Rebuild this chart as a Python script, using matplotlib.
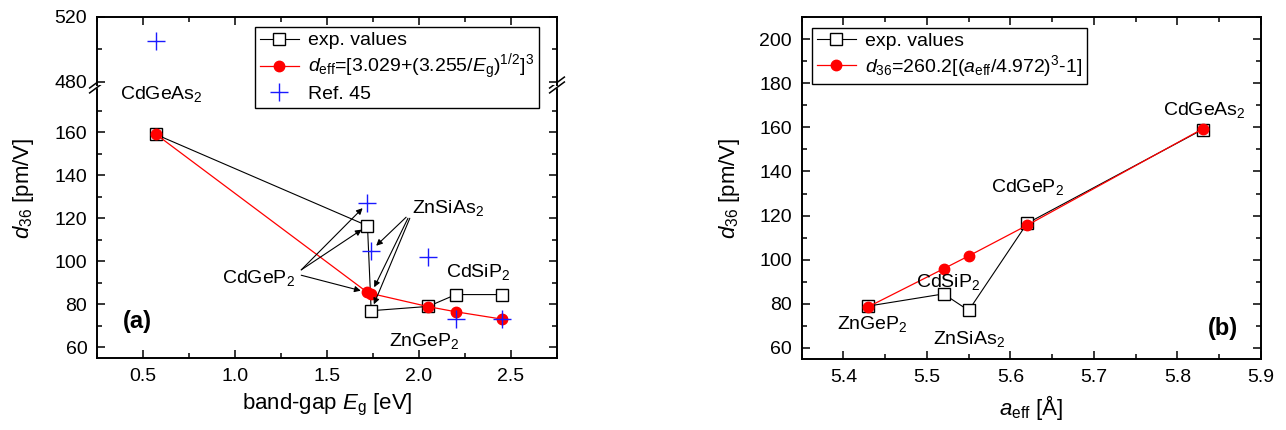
import matplotlib
matplotlib.use("Agg")
import matplotlib.pyplot as plt
from matplotlib.lines import Line2D
from matplotlib.ticker import MultipleLocator, FixedLocator

plt.rcParams["font.family"] = ["Liberation Sans", "DejaVu Sans"]
plt.rcParams["mathtext.fontset"] = "custom"
plt.rcParams["mathtext.rm"] = "Liberation Sans"
plt.rcParams["mathtext.it"] = "Liberation Sans:italic"
plt.rcParams["mathtext.bf"] = "Liberation Sans:bold"

# ---- panel (a): d36 vs band gap ----
eg = [0.57, 1.72, 1.74, 2.05, 2.20, 2.45]
d_exp_a = [159.0, 116.5, 77.0, 79.0, 84.5, 84.5]
d_fit_a = [159.1, 85.5, 85.0, 78.9, 76.5, 73.1]
eg_ref = [0.57, 1.72, 1.74, 2.05, 2.20, 2.45]
d_ref = [505.0, 127.0, 105.0, 102.0, 73.0, 73.0]

# ---- panel (b): d36 vs a_eff ----
a_eff = [5.43, 5.52, 5.55, 5.62, 5.83]
d_exp_b = [79.0, 84.5, 77.0, 116.5, 159.0]
d_fit_b = [78.7, 95.9, 101.7, 115.6, 159.3]

W, H = 1286, 430
FS = 14
LFS = 16

fig = plt.figure(figsize=(W / 100, H / 100), dpi=100)


def fx(px):
    return px / W


def fy(py):
    return 1 - py / H


ax_bot = fig.add_axes([fx(97), fy(358), 460 / W, (358 - 85) / H])
ax_top = fig.add_axes([fx(97), fy(85), 460 / W, (85 - 17) / H])
ax_b = fig.add_axes([fx(801.6), fy(359), 459.4 / W, (359 - 17) / H])


def style(ax):
    for s in ax.spines.values():
        s.set_linewidth(1.4)
    ax.tick_params(which="both", direction="in", top=True, right=True,
                   labelsize=FS, width=1.1, pad=7)
    ax.tick_params(which="major", length=6)
    ax.tick_params(which="minor", length=3.5)


for ax in (ax_bot, ax_top, ax_b):
    style(ax)

sq = dict(marker="s", ms=8, mfc="white", mec="black", mew=1.0)
dot = dict(marker="o", ms=7.5, mfc="red", mec="red")
plus = dict(marker="+", ms=13, mew=1.0, color="#1a1aff", ls="none")

# panel (a) lower part
ax_bot.plot(eg, d_exp_a, color="black", lw=0.8, zorder=2, **sq)
ax_bot.plot(eg, d_fit_a, color="red", lw=0.9, zorder=3, **dot)
ax_bot.plot(eg_ref, d_ref, zorder=4, **plus)
ax_bot.set_xlim(0.25, 2.75)
ax_bot.set_ylim(55, 182)
ax_bot.xaxis.set_major_locator(MultipleLocator(0.5))
ax_bot.xaxis.set_minor_locator(MultipleLocator(0.25))
ax_bot.yaxis.set_major_locator(FixedLocator([60, 80, 100, 120, 140, 160]))
ax_bot.yaxis.set_minor_locator(FixedLocator([70, 90, 110, 130, 150, 170]))
ax_bot.spines["top"].set_visible(False)
ax_bot.tick_params(which="both", top=False)
ax_bot.xaxis.set_major_formatter(plt.FuncFormatter(lambda v, p: f"{v:.1f}"))
ax_bot.set_xlabel(r"band-gap $E_{\rm g}$ [eV]", fontsize=LFS, labelpad=5)

# panel (a) upper part (axis break)
ax_top.plot(eg_ref, d_ref, zorder=4, **plus)
ax_top.set_xlim(0.25, 2.75)
ax_top.set_ylim(478, 520)
ax_top.xaxis.set_major_locator(MultipleLocator(0.5))
ax_top.xaxis.set_minor_locator(MultipleLocator(0.25))
ax_top.yaxis.set_major_locator(FixedLocator([480, 520]))
ax_top.yaxis.set_minor_locator(FixedLocator([500]))
ax_top.spines["bottom"].set_visible(False)
ax_top.tick_params(which="both", bottom=False, labelbottom=False)

# break marks on both spines
for xa in (0.0, 1.0):
    ax_bot.add_patch(plt.Rectangle((xa - 0.01, 1 - 0.007), 0.02, 0.014,
                                   transform=ax_bot.transAxes, color="white",
                                   clip_on=False, zorder=10))
    for off in (-0.009, 0.009):
        ax_bot.plot([xa - 0.016, xa + 0.016], [1 + off - 0.02, 1 + off + 0.02],
                    transform=ax_bot.transAxes, color="black", lw=1.1,
                    clip_on=False, zorder=11)

# annotations panel (a)
tk = dict(fontsize=FS, ha="center", va="center")
arr = dict(arrowstyle="-|>", color="black", lw=0.8, mutation_scale=9,
           shrinkA=0, shrinkB=5)
ax_bot.text(0.60, 178, r"CdGeAs$_2$", **tk)
ax_bot.text(1.13, 92, r"CdGeP$_2$", **tk)
ax_bot.text(2.16, 125, r"ZnSiAs$_2$", **tk)
ax_bot.text(2.32, 95, r"CdSiP$_2$", **tk)
ax_bot.text(2.03, 63, r"ZnGeP$_2$", **tk)
ax_bot.text(0.47, 72, "(a)", fontsize=17, fontweight="bold", ha="center", va="center")

ax_bot.annotate("", xy=(eg_ref[1], d_ref[1]), xytext=(1.36, 96), arrowprops=arr)
ax_bot.annotate("", xy=(eg[1], d_exp_a[1]), xytext=(1.36, 96), arrowprops=arr)
ax_bot.annotate("", xy=(eg[1], d_fit_a[1]), xytext=(1.36, 93.5), arrowprops=arr)
ax_bot.annotate("", xy=(eg_ref[2], d_ref[2]), xytext=(1.93, 120.5), arrowprops=arr)
ax_bot.annotate("", xy=(eg[2], d_fit_a[2]), xytext=(1.94, 120), arrowprops=arr)
ax_bot.annotate("", xy=(eg[2], d_exp_a[2]), xytext=(1.95, 120), arrowprops=arr)

handles_a = [
    Line2D([], [], color="black", lw=0.8, **sq),
    Line2D([], [], color="red", lw=0.9, **dot),
    Line2D([], [], **plus),
]
labels_a = [
    "exp. values",
    r"$d_{\rm eff}$=[3.029+(3.255/$E_{\rm g}$)$^{1/2}$]$^3$",
    "Ref. 45",
]
leg_a = fig.legend(handles_a, labels_a, loc="upper left",
                   bbox_to_anchor=(fx(255), fy(27)), fontsize=FS, frameon=True,
                   fancybox=False, edgecolor="black", framealpha=1,
                   handlelength=2.0, handletextpad=0.5, borderpad=0.25,
                   labelspacing=0.15, borderaxespad=0, numpoints=1)
leg_a.get_frame().set_linewidth(1.0)

fig.text(fx(24), fy(188), r"$d_{36}$ [pm/V]", rotation=90, fontsize=LFS,
         ha="center", va="center")

# panel (b)
ax_b.plot(a_eff, d_exp_b, color="black", lw=0.8, zorder=2, **sq)
ax_b.plot(a_eff, d_fit_b, color="red", lw=0.9, zorder=3, **dot)
ax_b.set_xlim(5.35, 5.9)
ax_b.set_ylim(55, 210)
ax_b.xaxis.set_major_locator(MultipleLocator(0.1))
ax_b.xaxis.set_minor_locator(MultipleLocator(0.05))
ax_b.yaxis.set_major_locator(MultipleLocator(20))
ax_b.yaxis.set_minor_locator(MultipleLocator(10))
ax_b.xaxis.set_major_formatter(plt.FuncFormatter(lambda v, p: f"{v:.1f}"))
ax_b.set_xlabel(r"$a_{\rm eff}$ [Å]", fontsize=LFS, labelpad=5)
fig.text(fx(729), fy(188), r"$d_{36}$ [pm/V]", rotation=90, fontsize=LFS,
         ha="center", va="center")

ax_b.text(5.832, 168, r"CdGeAs$_2$", **tk)
ax_b.text(5.62, 133, r"CdGeP$_2$", **tk)
ax_b.text(5.525, 90, r"CdSiP$_2$", **tk)
ax_b.text(5.435, 71, r"ZnGeP$_2$", **tk)
ax_b.text(5.55, 64, r"ZnSiAs$_2$", **tk)
ax_b.text(5.854, 69, "(b)", fontsize=17, fontweight="bold", ha="center", va="center")

handles_b = handles_a[:2]
labels_b = ["exp. values", r"$d_{36}$=260.2[($a_{\rm eff}$/4.972)$^3$-1]"]
leg_b = ax_b.legend(handles_b, labels_b, loc="upper left",
                    bbox_to_anchor=(fx(812), fy(27.7)),
                    bbox_transform=fig.transFigure, fontsize=FS, frameon=True,
                    fancybox=False, edgecolor="black", framealpha=1,
                    handlelength=2.0, handletextpad=0.5, borderpad=0.25,
                    labelspacing=0.15, borderaxespad=0, numpoints=1)
leg_b.get_frame().set_linewidth(1.0)

fig.savefig("out.png", dpi=100)
